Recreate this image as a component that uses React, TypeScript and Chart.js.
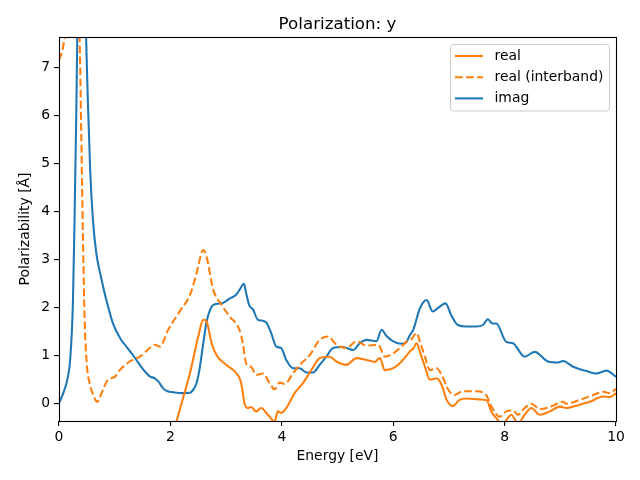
import React, { useEffect, useRef } from "react";
import { Chart, registerables } from "chart.js";

Chart.register(...registerables);

const TITLE = "Polarization: y";
const X_LABEL = "Energy [eV]";
const Y_LABEL = "Polarizability [Å]";
const xTicks = [0, 2, 4, 6, 8, 10];
const yTicks = [0, 1, 2, 3, 4, 5, 6, 7];

const realX = [1.5, 1.8, 2.0, 2.11, 2.23, 2.35, 2.5, 2.59, 2.65, 2.74, 2.83, 3.0, 3.21, 3.27, 3.33, 3.39, 3.45, 3.54, 3.63, 3.75, 3.87, 3.93, 3.99, 4.08, 4.23, 4.38, 4.53, 4.68, 4.86, 4.98, 5.16, 5.34, 5.52, 5.67, 5.76, 5.85, 6.0, 6.15, 6.3, 6.36, 6.42, 6.48, 6.57, 6.66, 6.78, 6.87, 6.96, 7.07, 7.19, 7.31, 7.55, 7.68, 7.76, 7.88, 7.95, 8.03, 8.12, 8.24, 8.36, 8.48, 8.63, 8.81, 8.99, 9.11, 9.29, 9.53, 9.77, 9.89, 10.0];
const realY = [-2.5, -1.6, -0.85, -0.38, 0.12, 0.62, 1.39, 1.74, 1.7, 1.25, 1.0, 0.8, 0.59, 0.42, 0.0, -0.1, -0.08, -0.17, -0.1, -0.24, -0.38, -0.17, -0.2, -0.1, 0.21, 0.42, 0.69, 0.94, 0.97, 0.87, 0.8, 0.94, 0.9, 0.86, 0.94, 0.69, 0.73, 0.87, 1.08, 1.14, 1.25, 1.07, 0.76, 0.49, 0.52, 0.38, 0.07, -0.06, 0.07, 0.1, 0.08, 0.06, -0.17, -0.35, -0.45, -0.35, -0.24, -0.42, -0.24, -0.1, -0.24, -0.17, -0.07, -0.1, -0.05, 0.03, 0.14, 0.13, 0.21];

const interX = [0.0, 0.07, 0.13, 0.2, 0.27, 0.33, 0.37, 0.4, 0.43, 0.46, 0.5, 0.55, 0.64, 0.69, 0.73, 0.79, 0.88, 1.0, 1.09, 1.27, 1.45, 1.63, 1.72, 1.81, 1.96, 2.17, 2.35, 2.47, 2.59, 2.65, 2.77, 2.92, 3.06, 3.24, 3.3, 3.36, 3.45, 3.54, 3.66, 3.78, 3.87, 3.96, 4.05, 4.2, 4.35, 4.5, 4.68, 4.83, 4.98, 5.16, 5.34, 5.52, 5.73, 5.85, 6.0, 6.15, 6.24, 6.33, 6.42, 6.48, 6.57, 6.66, 6.78, 6.87, 6.99, 7.1, 7.25, 7.49, 7.67, 7.76, 7.91, 8.03, 8.15, 8.24, 8.36, 8.48, 8.63, 8.81, 9.05, 9.11, 9.35, 9.59, 9.77, 9.89, 10.0];
const interY = [7.15, 7.4, 7.9, 8.6, 9.0, 8.6, 7.6, 5.6, 3.45, 1.75, 0.8, 0.42, 0.1, 0.03, 0.12, 0.28, 0.49, 0.55, 0.69, 0.87, 0.97, 1.15, 1.22, 1.18, 1.53, 1.92, 2.25, 2.71, 3.19, 3.05, 2.36, 2.05, 1.81, 1.53, 1.25, 0.83, 0.76, 0.59, 0.62, 0.42, 0.29, 0.43, 0.4, 0.62, 0.83, 1.0, 1.32, 1.39, 1.22, 1.15, 1.29, 1.2, 1.22, 0.97, 1.04, 1.18, 1.28, 1.34, 1.46, 1.28, 0.97, 0.69, 0.73, 0.59, 0.28, 0.17, 0.25, 0.25, 0.17, -0.06, -0.28, -0.17, -0.15, -0.24, -0.1, -0.01, -0.12, -0.08, 0.03, -0.01, 0.07, 0.17, 0.24, 0.21, 0.3];

const imagX = [0.0, 0.08, 0.16, 0.2, 0.25, 0.28, 0.31, 0.33, 0.37, 0.41, 0.45, 0.48, 0.52, 0.56, 0.61, 0.67, 0.76, 0.85, 0.97, 1.1, 1.21, 1.33, 1.45, 1.55, 1.63, 1.72, 1.78, 1.87, 1.95, 2.05, 2.2, 2.35, 2.42, 2.47, 2.53, 2.59, 2.65, 2.71, 2.77, 2.94, 3.06, 3.18, 3.24, 3.32, 3.36, 3.42, 3.48, 3.57, 3.66, 3.73, 3.81, 3.9, 3.99, 4.08, 4.2, 4.32, 4.44, 4.56, 4.68, 4.8, 4.92, 5.1, 5.28, 5.4, 5.52, 5.7, 5.79, 5.88, 6.0, 6.15, 6.24, 6.3, 6.36, 6.48, 6.6, 6.71, 6.83, 6.94, 7.04, 7.16, 7.31, 7.49, 7.61, 7.7, 7.78, 7.85, 8.03, 8.15, 8.36, 8.54, 8.78, 8.96, 9.05, 9.23, 9.47, 9.65, 9.83, 10.0];
const imagY = [0.0, 0.22, 0.55, 0.9, 2.1, 3.9, 6.0, 7.8, 10.5, 12.0, 9.8, 7.9, 6.24, 4.85, 3.81, 3.12, 2.6, 2.15, 1.66, 1.35, 1.18, 1.0, 0.8, 0.65, 0.56, 0.52, 0.46, 0.31, 0.25, 0.23, 0.21, 0.22, 0.3, 0.42, 0.76, 1.25, 1.7, 1.94, 2.05, 2.09, 2.18, 2.26, 2.36, 2.49, 2.29, 2.03, 1.96, 1.74, 1.72, 1.67, 1.46, 1.18, 1.15, 0.9, 0.73, 0.73, 0.64, 0.64, 0.8, 0.97, 1.15, 1.17, 1.11, 1.25, 1.32, 1.29, 1.53, 1.4, 1.29, 1.24, 1.28, 1.42, 1.53, 1.98, 2.15, 1.91, 2.01, 2.08, 1.84, 1.63, 1.6, 1.6, 1.63, 1.75, 1.66, 1.66, 1.28, 1.25, 0.97, 1.07, 0.87, 0.85, 0.88, 0.76, 0.67, 0.62, 0.68, 0.55];

const ORANGE = "#ff7f0e";
const BLUE = "#1f77b4";
const FONT = "'DejaVu Sans', sans-serif";
const LW = 2.08;
const DASH = [7.7, 3.33];

const zip = (xs: number[], ys: number[]) => xs.map((x, i) => ({ x, y: ys[i] }));

const legendItems = [
  { label: "real", color: ORANGE, dash: [] as number[] },
  { label: "real (interband)", color: ORANGE, dash: DASH },
  { label: "imag", color: BLUE, dash: [] as number[] },
];

const framePlugin = {
  id: "frameAndLegend",
  afterDatasetsDraw(chart: any) {
    const { ctx, chartArea: a } = chart;
    ctx.save();
    ctx.strokeStyle = "#000";
    ctx.lineWidth = 1.1;
    ctx.setLineDash([]);
    ctx.strokeRect(Math.round(a.left) + 0.5, Math.round(a.top) + 0.5, Math.round(a.right - a.left), Math.round(a.bottom - a.top));
    ctx.fillStyle = "#000";
    ctx.font = `16.7px ${FONT}`;
    ctx.textAlign = "center";
    ctx.textBaseline = "alphabetic";
    ctx.fillText(TITLE, (a.left + a.right) / 2, 29);
    const lx = 450.5, ly = 44.5, lw = 159, lh = 66.5, r = 3;
    ctx.beginPath();
    ctx.moveTo(lx + r, ly);
    ctx.lineTo(lx + lw - r, ly);
    ctx.quadraticCurveTo(lx + lw, ly, lx + lw, ly + r);
    ctx.lineTo(lx + lw, ly + lh - r);
    ctx.quadraticCurveTo(lx + lw, ly + lh, lx + lw - r, ly + lh);
    ctx.lineTo(lx + r, ly + lh);
    ctx.quadraticCurveTo(lx, ly + lh, lx, ly + lh - r);
    ctx.lineTo(lx, ly + r);
    ctx.quadraticCurveTo(lx, ly, lx + r, ly);
    ctx.closePath();
    ctx.fillStyle = "rgba(255,255,255,0.8)";
    ctx.fill();
    ctx.strokeStyle = "#cccccc";
    ctx.lineWidth = 1;
    ctx.stroke();
    ctx.font = `13.9px ${FONT}`;
    ctx.textAlign = "left";
    ctx.textBaseline = "middle";
    legendItems.forEach((it, i) => {
      const y = 56 + i * 21.2;
      ctx.beginPath();
      ctx.strokeStyle = it.color;
      ctx.lineWidth = LW;
      ctx.setLineDash(it.dash);
      ctx.moveTo(455, y);
      ctx.lineTo(483, y);
      ctx.stroke();
      ctx.setLineDash([]);
      ctx.fillStyle = "#000";
      ctx.fillText(it.label, 494.5, y);
    });
    ctx.restore();
  },
};

export default function App() {
  const ref = useRef<HTMLCanvasElement>(null);
  useEffect(() => {
    if (!ref.current) return;
    const tickFont = { family: FONT, size: 13.9 };
    const common = { borderWidth: LW, pointRadius: 0, cubicInterpolationMode: "monotone", clip: 0, fill: false };
    const chart = new Chart(ref.current, {
      type: "line",
      data: {
        datasets: [
          { label: "real", data: zip(realX, realY), borderColor: ORANGE, ...common },
          { label: "real (interband)", data: zip(interX, interY), borderColor: ORANGE, borderDash: DASH, ...common },
          { label: "imag", data: zip(imagX, imagY), borderColor: BLUE, ...common },
        ] as any,
      },
      options: {
        animation: false,
        responsive: false,
        devicePixelRatio: 1,
        layout: { padding: { left: 0, top: 37, right: 24, bottom: 0 } },
        plugins: { legend: { display: false }, tooltip: { enabled: false }, title: { display: false } },
        scales: {
          x: {
            type: "linear",
            min: 0,
            max: 10,
            afterBuildTicks: (s: any) => { s.ticks = xTicks.map((v) => ({ value: v })); },
            afterFit: (s: any) => { s.height = 59; s.paddingLeft = 0; s.paddingRight = 0; },
            grid: { display: true, drawOnChartArea: false, drawTicks: true, tickLength: 5, color: "#000", lineWidth: 1.1 },
            border: { display: false },
            ticks: { font: tickFont, color: "#000", padding: 3, maxRotation: 0, autoSkip: false },
            title: { display: true, text: X_LABEL, font: tickFont, color: "#000", padding: { top: 0, bottom: 15 } },
          },
          y: {
            type: "linear",
            min: -0.37,
            max: 7.63,
            afterBuildTicks: (s: any) => { s.ticks = yTicks.map((v) => ({ value: v })); },
            afterFit: (s: any) => { s.width = 59; s.paddingTop = 0; s.paddingBottom = 0; },
            grid: { display: true, drawOnChartArea: false, drawTicks: true, tickLength: 5, color: "#000", lineWidth: 1.1 },
            border: { display: false },
            ticks: { font: tickFont, color: "#000", padding: 4, autoSkip: false },
            title: { display: true, text: Y_LABEL, font: tickFont, color: "#000", padding: { top: 17, bottom: 0 } },
          },
        },
      } as any,
      plugins: [framePlugin],
    });
    return () => chart.destroy();
  }, []);
  return (
    <div style={{ position: "absolute", left: 0, top: 0, width: 640, height: 480, background: "#fff" }}>
      <canvas ref={ref} width={640} height={480} />
    </div>
  );
}
